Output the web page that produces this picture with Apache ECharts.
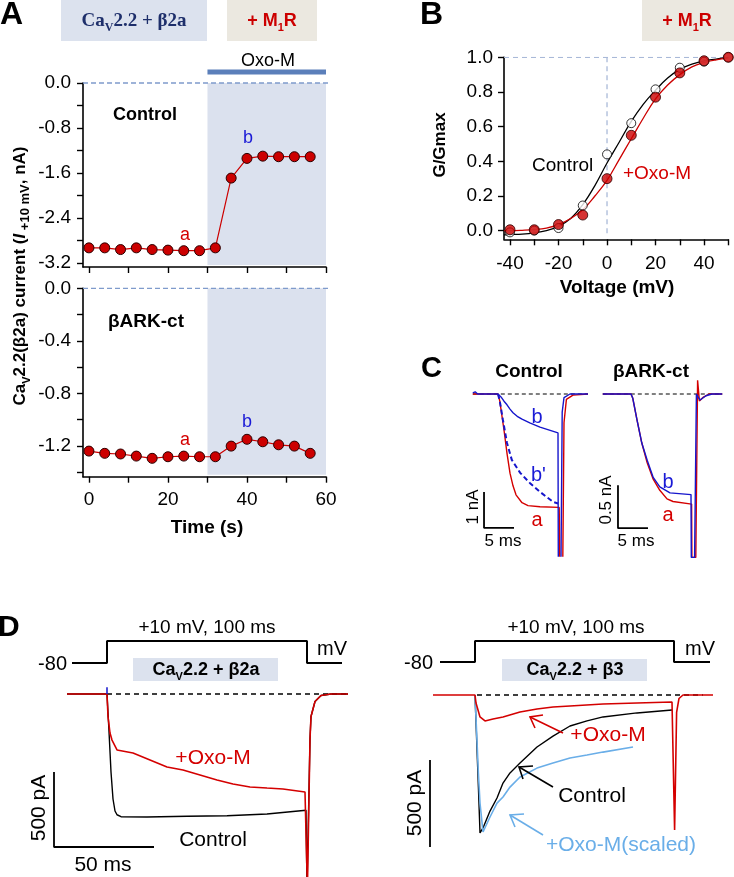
<!DOCTYPE html>
<html><head><meta charset="utf-8">
<script src="https://cdn.jsdelivr.net/npm/echarts@6/dist/echarts.min.js"></script>
<style>html,body{margin:0;padding:0;background:#fff}#c{width:734px;height:877px}</style>
</head><body><div id="c"></div>
<script>
// ---------- Panel A ----------
const aTime = [0,4,8,12,16,20,24,28,32,36,40,44,48,52,56];
const aControl = [-2.93,-2.93,-2.96,-2.93,-2.96,-2.97,-2.98,-2.98,-2.93,-1.69,-1.34,-1.30,-1.31,-1.31,-1.31];
const aBark = [-1.24,-1.257,-1.262,-1.278,-1.295,-1.283,-1.278,-1.283,-1.283,-1.202,-1.15,-1.169,-1.192,-1.202,-1.257];
const oxoWindow = [30, 60];
const aTopYLabels = [0,-0.8,-1.6,-2.4,-3.2];
const aTopYTicks = [0,-0.4,-0.8,-1.2,-1.6,-2.0,-2.4,-2.8,-3.2];
const aBotYLabels = [0,-0.4,-0.8,-1.2];
const aBotYTicks = [0,-0.2,-0.4,-0.6,-0.8,-1.0,-1.2,-1.4];
const aXTicks = [0,10,20,30,40,50,60];
const aXLabels = [0,20,40,60];

// ---------- Panel B ----------
const bVolt = [-40,-30,-20,-10,0,10,20,30,40,50];
const bControl = [-0.01,0.0,0.015,0.145,0.44,0.62,0.815,0.94,0.975,1.0];
const bOxo = [0.005,0.005,0.035,0.09,0.30,0.55,0.77,0.91,0.98,1.0];
const bFitVolt = [-42.5,-40,-35,-30,-25,-20,-15,-10,-5,0,5,10,15,20,25,30,35,40,45,50];
const bFitControl = [-0.025,-0.023,-0.02,-0.013,0.0,0.025,0.07,0.15,0.26,0.39,0.51,0.63,0.73,0.81,0.88,0.93,0.96,0.98,0.99,1.0];
const bFitOxo = [0,0,0.002,0.006,0.015,0.035,0.07,0.12,0.2,0.29,0.41,0.53,0.65,0.76,0.84,0.9,0.945,0.97,0.985,0.995];
const bXTicks = [-40,-30,-20,-10,0,10,20,30,40,50];
const bXLabels = [-40,-20,0,20,40];
const bYTicks = [0,0.2,0.4,0.6,0.8,1.0];

// ---------- Panel C (ms, nA) ----------
const cCtrlA = [[-4.2,0],[-3.9,0.04],[-3.5,0],[0,0],[0.3,-0.2],[1,-1.0],[1.5,-1.65],[2,-2.2],[2.5,-2.55],[3,-2.8],[4,-3.02],[5,-3.1],[7,-3.13],[10.2,-3.15],[10.3,-4.6],[10.8,-4.6],[11,-0.8],[11.4,-0.15],[12.5,-0.03],[15,0]];
const cCtrlB = [[-4.2,0.03],[-3.8,0.06],[-3.4,0],[0,0],[0.5,-0.08],[1,-0.2],[1.5,-0.3],[2,-0.42],[2.5,-0.52],[3.2,-0.62],[4,-0.7],[5.3,-0.8],[7,-0.92],[10,-1.08],[10.05,-4.6],[10.5,-4.6],[10.7,-0.5],[11,-0.1],[12,0],[15,0]];
const cCtrlBprime = [[0,0],[0.3,-0.2],[0.8,-0.7],[1.5,-1.36],[2.3,-1.83],[3.7,-2.19],[5.3,-2.47],[7,-2.72],[9.2,-3.0],[10,-3.04]];
const cBarkA = [[-4.7,0],[0,0],[0.3,-0.05],[1,-0.3],[1.8,-0.57],[2.7,-0.8],[3.7,-0.99],[4.8,-1.12],[6,-1.22],[7,-1.25],[10.1,-1.28],[10.15,-1.9],[10.8,-1.9],[11.1,0.16],[11.4,-0.08],[12,-0.04],[13,0],[15.2,0]];
const cBarkB = [[-4.7,0],[0,0],[0.3,-0.05],[1,-0.3],[1.8,-0.57],[2.7,-0.77],[3.7,-0.97],[4.8,-1.08],[6.5,-1.15],[10,-1.17],[10.05,-1.9],[10.6,-1.9],[10.9,0.0],[11.5,-0.07],[12.5,-0.02],[13.5,0],[15.2,0]];
const cCtrlBase = [[-4.2,0],[15,0]];
const cBarkBase = [[-4.7,0],[15.2,0]];
const cCtrlScale = [[-2.33,-2.72],[-2.33,-3.72],[2.67,-3.72]];
const cBarkScale = [[-2.17,-1.06],[-2.17,-1.56],[2.83,-1.56]];

// ---------- Panel D (ms, mV / pA) ----------
const dProtoLeft = [[-17.5,-80],[0,-80],[0,10],[100,10],[100,-80],[117.5,-80]];
const dProtoRight = [[-17.5,-80],[0,-80],[0,10],[99.5,10],[99.5,-80],[117.5,-80]];
const dLeftCtrl = [[-20,0],[0,0],[1,-250],[2,-520],[3,-700],[4,-780],[5,-805],[7,-818],[20,-820],[40,-815],[60,-812],[80,-800],[99.5,-775],[100,-1300],[101,-1300],[101.5,-300],[102,-150],[104,-50],[107,-10],[112,0],[120.5,0]];
const dLeftOxo = [[-20,0],[0,0],[0.5,-150],[1.5,-260],[2.5,-307],[5,-373],[13,-393],[21.5,-440],[30,-487],[38,-507],[46.5,-540],[55,-573],[63,-600],[71.5,-620],[80,-627],[88,-633],[99,-653],[100,-653],[100.2,-1300],[101,-1300],[101.5,-300],[102,-150],[104,-50],[107,-10],[112,0],[120.5,0]];
const dLeftCap = [[0,0],[0,45]];
const dLeftBase = [[0,0],[120.5,0]];
const dLeftScale = [[-26.5,-520],[-26.5,-1020],[23.5,-1020]];
const dRightCtrl = [[0,0],[1.7,-529],[2.5,-793],[4,-764],[7.5,-667],[11,-592],[14,-506],[17.5,-448],[22.5,-391],[31,-299],[39,-236],[47.5,-178],[56,-149],[64,-126],[81,-103],[98.5,-86]];
const dRightScaled = [[0,0],[1.7,-450],[2.5,-621],[4,-787],[7.5,-701],[11,-621],[14,-586],[17.5,-529],[22.5,-471],[31,-420],[39,-391],[47.5,-362],[56,-345],[64,-328],[79,-299]];
const dRightOxo = [[-21,0],[0,0],[0.5,-46],[2.5,-126],[5,-149],[9,-138],[14,-126],[22.5,-98],[31,-80],[39,-69],[47.5,-63],[64,-52],[81,-46],[98.5,-40],[99.5,-40],[99.8,-776],[100.3,-776],[100.8,-100],[102,-20],[104,0],[119,0]];
const dRightBase = [[1,0],[114,0]];
const dRightScale = [[-22.5,-374],[-22.5,-874]];

// ---------- styling ----------
const FF = '"Liberation Sans", Arial, sans-serif';
const RED = '#d40000', BLUE = '#1a1ad6', NAVY = '#1e2f6b';
const fmt1 = v => (Math.abs(v) < 1e-9 ? '0.0' : v.toFixed(1));

function grid(left, top, width, height) {
  return {left, top, width, height, containLabel: false, outerBoundsMode: 'none'};
}
function hidAxis(gi, min, max) { return {type: 'value', gridIndex: gi, min, max, show: false}; }
function visAxis(gi, min, max, ticks, labels, fmt, margin) {
  return {
    type: 'value', gridIndex: gi, min, max,
    axisLine: {show: true, onZero: false, lineStyle: {color: '#000', width: 1.6}},
    axisTick: {show: true, customValues: ticks, length: 6, lineStyle: {color: '#000', width: 1.4}},
    axisLabel: {show: labels.length > 0, customValues: labels, formatter: fmt, fontSize: 19, fontFamily: FF, color: '#000', margin},
    splitLine: {show: false}
  };
}
function zip(xs, ys) { return xs.map((x, i) => [x, ys[i]]); }
function ln(xi, data, color, width, extra) {
  return Object.assign({type: 'line', xAxisIndex: xi, yAxisIndex: xi, data, symbol: 'none', silent: true,
    lineStyle: {color, width}, animation: false}, extra || {});
}

const chart = echarts.init(document.getElementById('c'), null, {renderer: 'canvas'});

const grids = [
  grid(83, 83, 243, 184),          // 0 A top
  grid(83, 288.3, 243, 188.4),     // 1 A bottom
  grid(504, 57.3, 224.3, 182),     // 2 B
  grid(468, 379.6, 123, 176.4),    // 3 C left
  grid(601, 376.8, 123, 180.6),    // 4 C right
  grid(47, 641, 302, 22),          // 5 D left protocol
  grid(47, 679, 302, 198),         // 6 D left current
  grid(415, 641, 302, 21),         // 7 D right protocol
  grid(415, 677.6, 302, 198.4)     // 8 D right current
];

const xAxes = [
  visAxis(0, -1.5, 60, aXTicks, [], v => v, 8),
  visAxis(1, -1.5, 60, aXTicks, aXLabels, v => String(v), 14),
  visAxis(2, -42.47, 50, bXTicks, bXLabels, v => String(v), 15),
  hidAxis(3, -5, 15.5), hidAxis(4, -5, 15.5),
  hidAxis(5, -30, 121), hidAxis(6, -30, 121),
  hidAxis(7, -30, 121), hidAxis(8, -30, 121)
];
const yAxes = [
  visAxis(0, -3.27, 0, aTopYTicks, aTopYLabels, fmt1, 12),
  visAxis(1, -1.435, 0, aBotYTicks, aBotYLabels, fmt1, 12),
  visAxis(2, -0.05, 1.0, bYTicks, bYTicks, fmt1, 11),
  hidAxis(3, -4.5, 0.4), hidAxis(4, -1.9, 0.2),
  hidAxis(5, -80, 10), hidAxis(6, -1220, 100),
  hidAxis(7, -80, 10), hidAxis(8, -1040, 100)
];

const dotStyle = {color: '#cc0000', borderColor: '#2a0000', borderWidth: 1};
const series = [
  // A top
  ln(0, [[-1.5,0],[61,0]], '#7f9bcc', 1.3, {clip: false, z: 3, lineStyle: {color: '#7f9bcc', width: 1.3, type: [5,3]},
    markArea: {silent: true, z: 1, itemStyle: {color: '#dbe1ee'}, data: [[{coord: [oxoWindow[0], 0.11]}, {coord: [oxoWindow[1], -3.235]}]]}}),
  ln(0, [[oxoWindow[0],0.195],[oxoWindow[1],0.195]], '#5b7fba', 5, {clip: false}),
  ln(0, zip(aTime, aControl), '#cc0000', 1.2, {symbol: 'circle', symbolSize: 10, showAllSymbol: true, itemStyle: dotStyle, z: 5}),
  // A bottom
  ln(1, [[-1.5,0],[61,0]], '#7f9bcc', 1.3, {clip: false, z: 3, lineStyle: {color: '#7f9bcc', width: 1.3, type: [5,3]},
    markArea: {silent: true, z: 1, itemStyle: {color: '#dbe1ee'}, data: [[{coord: [oxoWindow[0], 0]}, {coord: [oxoWindow[1], -1.42]}]]}}),
  ln(1, zip(aTime, aBark), '#cc0000', 1.2, {symbol: 'circle', symbolSize: 10, showAllSymbol: true, itemStyle: dotStyle, z: 5}),
  // B
  ln(2, [[-42.47,1],[50,1]], '#a9b9d8', 1.3, {lineStyle: {color: '#a9b9d8', width: 1.3, type: [5,4]}}),
  ln(2, [[0,1],[0,-0.02]], '#a9b9d8', 1.3, {lineStyle: {color: '#a9b9d8', width: 1.3, type: [5,4]}}),
  ln(2, zip(bFitVolt, bFitControl), '#000', 1.3, {smooth: 0.4}),
  ln(2, zip(bFitVolt, bFitOxo), '#cc0000', 1.3, {smooth: 0.4}),
  {type: 'scatter', xAxisIndex: 2, yAxisIndex: 2, data: zip(bVolt, bControl), symbol: 'circle', symbolSize: 9, silent: true,
    itemStyle: {color: '#fff', borderColor: '#000', borderWidth: 1}, z: 4},
  {type: 'scatter', xAxisIndex: 2, yAxisIndex: 2, data: zip(bVolt, bOxo), symbol: 'circle', symbolSize: 10, silent: true,
    itemStyle: dotStyle, z: 5},
  // C left
  ln(3, cCtrlBase, '#000', 1, {lineStyle: {color: '#000', width: 1, type: [4,3]}}),
  ln(3, cCtrlA, RED, 1.4),
  ln(3, cCtrlB, '#1515cc', 1.4),
  ln(3, cCtrlBprime, '#1515cc', 2, {lineStyle: {color: '#1515cc', width: 2, type: [5,3]}}),
  ln(3, cCtrlScale, '#000', 1.8),
  // C right
  ln(4, cBarkBase, '#000', 1, {lineStyle: {color: '#000', width: 1, type: [4,3]}}),
  ln(4, cBarkA, RED, 1.4),
  ln(4, cBarkB, '#1515cc', 1.4),
  ln(4, cBarkScale, '#000', 1.8),
  // D left
  ln(5, dProtoLeft, '#000', 2),
  ln(6, dLeftBase, '#000', 1.3, {lineStyle: {color: '#000', width: 1.3, type: [5,4]}}),
  ln(6, dLeftCtrl, '#000', 1.4),
  ln(6, dLeftOxo, RED, 1.6),
  ln(6, dLeftCap, '#2020d0', 1.6),
  ln(6, dLeftScale, '#000', 1.8),
  // D right
  ln(7, dProtoRight, '#000', 2),
  ln(8, dRightBase, '#000', 1.3, {lineStyle: {color: '#000', width: 1.3, type: [5,4]}}),
  ln(8, dRightCtrl, '#000', 1.4),
  ln(8, dRightScaled, '#6aaee8', 1.6),
  ln(8, dRightOxo, RED, 1.6),
  ln(8, dRightScale, '#000', 1.8)
];

// ---------- text annotations ----------
function T(x, y, text, o) {
  o = o || {};
  return {type: 'text', x, y, rotation: o.rot || 0, z: 100, silent: true,
    style: {text, fill: o.color || '#000', fontSize: o.size || 18, fontFamily: o.family || FF,
      fontWeight: o.bold ? 'bold' : 'normal', fontStyle: o.italic ? 'italic' : 'normal',
      align: o.align || 'center', verticalAlign: 'middle', rich: o.rich}};
}
function R(x, y, w, h, color) { return {type: 'rect', z: 0, silent: true, shape: {x, y, width: w, height: h}, style: {fill: color}}; }
function P(pts, color) { return {type: 'polyline', z: 100, silent: true, shape: {points: pts}, style: {stroke: color, lineWidth: 1.6, fill: null}}; }
function subRich(size, color, bold, family, subSize) {
  const w = bold ? 'bold' : 'normal';
  const f = family || FF;
  return {
    m: {fontSize: size, fontWeight: w, fontFamily: f, fill: color, lineHeight: size + 7},
    s: {fontSize: subSize || Math.round(size * 0.62), fontWeight: w, fontFamily: f, fill: color, lineHeight: 12, verticalAlign: 'bottom'},
    t: {fontSize: 13, fontWeight: w, fontFamily: f, fill: color, lineHeight: 14, verticalAlign: 'bottom'},
    i: {fontSize: size, fontWeight: w, fontStyle: 'italic', fontFamily: f, fill: color, lineHeight: size + 7}
  };
}

const graphics = [
  // A
  T(0, 15, 'A', {bold: true, size: 32, align: 'left'}),
  R(61, 0, 146, 41, '#dce2ee'),
  T(134, 21, '{m|Ca}{s|V}{m|2.2 + β2a}', {rich: subRich(19, NAVY, true, '"Liberation Serif", serif')}),
  R(227, 0, 90, 41, '#ebe8e0'),
  T(272, 21, '{m|+ M}{s|1}{m|R}', {rich: subRich(18, '#cc0000', true)}),
  T(268, 61, 'Oxo-M', {size: 18}),
  T(113, 115, 'Control', {bold: true, size: 18, align: 'left'}),
  T(185, 235, 'a', {color: RED, size: 18}),
  T(248, 138, 'b', {color: BLUE, size: 18}),
  T(108, 322, 'βARK-ct', {bold: true, size: 19, align: 'left'}),
  T(185, 440, 'a', {color: RED, size: 18}),
  T(247, 422, 'b', {color: BLUE, size: 18}),
  T(20, 276, '{m|Ca}{s|V}{m|2.2(β2a) current (}{i|I}{t| +10 mV}{m|, nA)}', {rot: Math.PI / 2, rich: subRich(17, '#000', true)}),
  T(207, 528, 'Time (s)', {bold: true, size: 19}),
  // B
  T(420, 15, 'B', {bold: true, size: 32, align: 'left'}),
  R(642, 0, 92, 41, '#ebe8e0'),
  T(687, 21, '{m|+ M}{s|1}{m|R}', {rich: subRich(18, '#cc0000', true)}),
  T(440, 145, 'G/Gmax', {bold: true, size: 17, rot: Math.PI / 2}),
  T(617, 288, 'Voltage (mV)', {bold: true, size: 19}),
  T(532, 166, 'Control', {size: 19, align: 'left'}),
  T(623, 174, '+Oxo-M', {size: 19, align: 'left', color: RED}),
  // C
  T(421, 369, 'C', {bold: true, size: 29, align: 'left'}),
  T(529, 372, 'Control', {bold: true, size: 19}),
  T(651, 372, 'βARK-ct', {bold: true, size: 19}),
  T(537, 417, 'b', {color: BLUE, size: 20}),
  T(531, 475, "b'", {color: BLUE, size: 20, align: 'left'}),
  T(537, 520, 'a', {color: RED, size: 20}),
  T(473, 507, '1 nA', {size: 17, rot: Math.PI / 2}),
  T(503, 541, '5 ms', {size: 17}),
  T(668, 482, 'b', {color: BLUE, size: 20}),
  T(668, 515, 'a', {color: RED, size: 20}),
  T(606, 500, '0.5 nA', {size: 17, rot: Math.PI / 2}),
  T(636, 541, '5 ms', {size: 17}),
  // D left
  T(-2, 628, 'D', {bold: true, size: 30, align: 'left'}),
  T(207, 628, '+10 mV, 100 ms', {size: 19}),
  T(67, 664, '-80', {size: 20, align: 'right'}),
  T(332, 649, 'mV', {size: 20}),
  R(133, 658, 145, 23, '#dce2ee'),
  T(206, 670, '{m|Ca}{s|V}{m|2.2 + β2a}', {rich: subRich(18, '#000', true)}),
  T(213, 758, '+Oxo-M', {color: RED, size: 21}),
  T(213, 840, 'Control', {size: 21}),
  T(39, 808, '500 pA', {size: 21, rot: Math.PI / 2}),
  T(103, 865, '50 ms', {size: 21}),
  // D right
  T(576, 628, '+10 mV, 100 ms', {size: 19}),
  T(433, 663, '-80', {size: 20, align: 'right'}),
  T(700, 649, 'mV', {size: 20}),
  R(502, 659, 145, 22, '#dce2ee'),
  T(575, 670, '{m|Ca}{s|V}{m|2.2 + β3}', {rich: subRich(18, '#000', true)}),
  T(608, 735, '+Oxo-M', {color: RED, size: 21}),
  T(592, 796, 'Control', {size: 21}),
  T(621, 845, '+Oxo-M(scaled)', {color: '#6aaee8', size: 21}),
  T(415, 803, '500 pA', {size: 21, rot: Math.PI / 2}),
  P([[563,733],[530,717]], RED), P([[543,715],[530,717],[535,728]], RED),
  P([[553,787],[519,767]], '#000'), P([[533,766],[519,767],[523,779]], '#000'),
  P([[543,835],[510,815]], '#6aaee8'), P([[524,814],[510,815],[515,827]], '#6aaee8')
];

chart.setOption({
  animation: false,
  backgroundColor: '#fff',
  textStyle: {fontFamily: FF},
  grid: grids,
  xAxis: xAxes,
  yAxis: yAxes,
  series,
  graphic: {elements: graphics}
});
</script></body></html>
